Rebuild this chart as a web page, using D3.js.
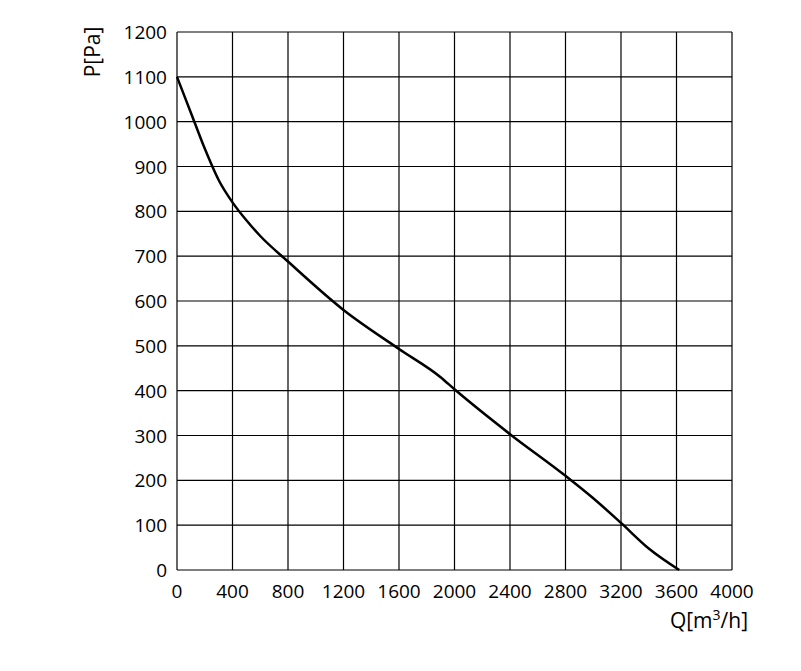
<!DOCTYPE html>
<html><head><meta charset="utf-8">
<script src="https://cdn.jsdelivr.net/npm/d3@7"></script>
<style>body{margin:0;background:#fff}</style></head>
<body><svg id="c" width="801" height="671"></svg>
<script>
const xTicks=[0,400,800,1200,1600,2000,2400,2800,3200,3600,4000];
const yTicks=[0,100,200,300,400,500,600,700,800,900,1000,1100,1200];
const flowQ=[0,100,200,300,400,500,600,800,1200,1600,1900,2000,2400,2800,3000,3200,3400,3620];
const pressureP=[1100,1020,940,870,820,780,745,688,580,493,430,403,303,210,160,105,48,0];
const svg=d3.select("#c");
const x=d3.scaleLinear().domain([0,4000]).range([177,732]);
const y=d3.scaleLinear().domain([0,1200]).range([570,32]);
const font="'Open Sans', sans-serif";
svg.append("g").selectAll("line").data(xTicks).join("line")
 .attr("x1",d=>x(d)).attr("x2",d=>x(d)).attr("y1",y(0)).attr("y2",y(1200))
 .attr("stroke","#000").attr("stroke-width",1.2);
svg.append("g").selectAll("line").data(yTicks).join("line")
 .attr("y1",d=>y(d)).attr("y2",d=>y(d)).attr("x1",x(0)).attr("x2",x(4000))
 .attr("stroke","#000").attr("stroke-width",1.2);
svg.append("g").selectAll("text").data(xTicks).join("text")
 .attr("x",d=>x(d)).attr("y",598).attr("text-anchor","middle")
 .attr("font-family",font).attr("font-size",19).text(d=>d);
svg.append("g").selectAll("text").data(yTicks).join("text")
 .attr("x",167).attr("y",d=>y(d)+7).attr("text-anchor","end")
 .attr("font-family",font).attr("font-size",19).text(d=>d);
const pts=flowQ.map((q,i)=>[q,pressureP[i]]);
svg.append("path").datum(pts)
 .attr("d",d3.line().x(d=>x(d[0])).y(d=>y(d[1])).curve(d3.curveMonotoneX))
 .attr("fill","none").attr("stroke","#000").attr("stroke-width",2.5);
svg.append("text").attr("transform","translate(100,52) rotate(-90)")
 .attr("text-anchor","middle").attr("font-family",font).attr("font-size",21).text("P[Pa]");
const t=svg.append("text").attr("x",748).attr("y",628).attr("text-anchor","end")
 .attr("font-family",font).attr("font-size",21);
t.append("tspan").text("Q[m");
t.append("tspan").attr("font-size",14).attr("dy",-8).text("3");
t.append("tspan").attr("dy",8).text("/h]");
</script></body></html>
